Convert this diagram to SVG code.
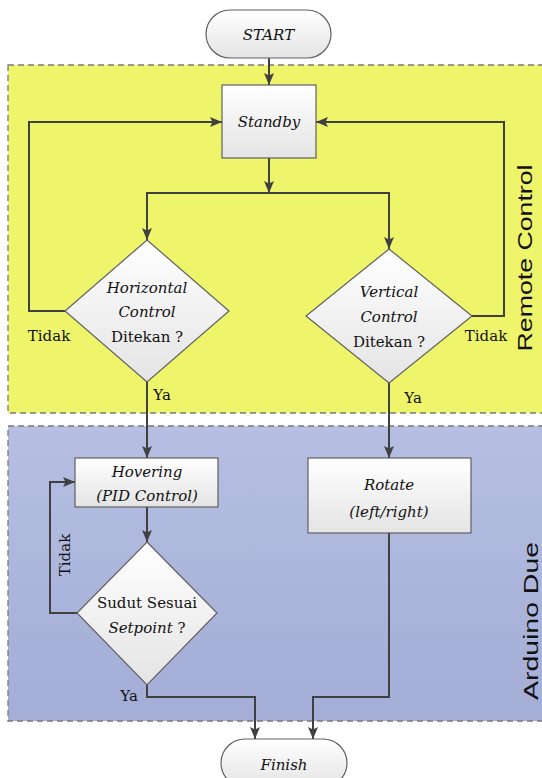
<svg xmlns="http://www.w3.org/2000/svg" width="542" height="778" viewBox="0 0 542 778">
<defs>
<linearGradient id="shade" x1="0" y1="0" x2="0" y2="1">
<stop offset="0" stop-color="#ffffff"/><stop offset="1" stop-color="#e4e4e4"/>
</linearGradient>
<linearGradient id="blue" x1="0" y1="0" x2="0" y2="1">
<stop offset="0" stop-color="#b6bfe2"/><stop offset="1" stop-color="#a3add6"/>
</linearGradient>
<marker id="arr" viewBox="0 0 12 10" refX="12" refY="5" markerWidth="12" markerHeight="10" markerUnits="userSpaceOnUse" orient="auto">
<path d="M0,0 L12,5 L0,10 L2.5,5 z" fill="#404040"/>
</marker>
</defs>
<style>
.reg{stroke:#7a7a7a;stroke-width:1.3;stroke-dasharray:6,4}
.shape{fill:url(#shade);stroke:#606060;stroke-width:1.2}
.t{font-family:'DejaVu Serif','Liberation Serif',serif;font-size:15px;fill:#111;text-anchor:middle}
.i{font-style:italic}
.side{font-family:'Liberation Sans',sans-serif;font-size:21px;fill:#111;text-anchor:middle}
.ca{fill:none;stroke:#404040;stroke-width:2;marker-end:url(#arr)}
</style>
<rect width="542" height="778" fill="#ffffff"/>
<g id="region-remote">
<rect x="8" y="65" width="540" height="348" fill="#eef56b" class="reg"/>
<text class="side" transform="translate(532,258) rotate(-90)" textLength="187" lengthAdjust="spacingAndGlyphs">Remote Control</text>
</g>
<g id="region-arduino">
<rect x="8" y="426" width="540" height="295" fill="url(#blue)" class="reg"/>
<text class="side" transform="translate(538,621) rotate(-90)" textLength="158" lengthAdjust="spacingAndGlyphs">Arduino Due</text>
</g>
<g id="connectors">
<path class="ca" d="M269,58 V85"/>
<path class="ca" d="M269,158 V193"/>
<path class="ca" d="M269,193 H147 V240"/>
<path class="ca" d="M269,193 H389 V249"/>
<path class="ca" d="M65,311 H29 V122 H222"/>
<path class="ca" d="M472,316 H504 V122 H316"/>
<path class="ca" d="M147,382 V458"/>
<path class="ca" d="M389,383 V458"/>
<path class="ca" d="M147,507 V542"/>
<path class="ca" d="M77,613 H50 V482 H75"/>
<path class="ca" d="M147,685 V697 H255 V739"/>
<path class="ca" d="M389,533 V697 H313 V739"/>
</g>
<g id="start">
<rect x="206" y="10" width="125" height="48" rx="24" class="shape"/>
<text class="t i" x="268.5" y="40">START</text>
</g>
<g id="standby">
<rect x="222" y="85" width="94" height="73" class="shape"/>
<text class="t i" x="269" y="127">Standby</text>
</g>
<g id="horizontal">
<polygon points="147,240 229,311 147,382 65,311" class="shape"/>
<text class="t i" x="147" y="293">Horizontal</text>
<text class="t i" x="147" y="317">Control</text>
<text class="t" x="147" y="342">Ditekan ?</text>
</g>
<g id="vertical">
<polygon points="389,249 472,316 389,383 306,316" class="shape"/>
<text class="t i" x="389" y="297">Vertical</text>
<text class="t i" x="389" y="322">Control</text>
<text class="t" x="389" y="347">Ditekan ?</text>
</g>
<g id="labels">
<text class="t" x="49" y="341">Tidak</text>
<text class="t" x="162" y="400">Ya</text>
<text class="t" x="486" y="341">Tidak</text>
<text class="t" x="413" y="403">Ya</text>
<text class="t" transform="translate(70,555) rotate(-90)">Tidak</text>
<text class="t" x="129" y="701">Ya</text>
</g>
<g id="hovering">
<rect x="75" y="458" width="143" height="49" class="shape"/>
<text class="t i" x="147" y="477">Hovering</text>
<text class="t i" x="147" y="501">(PID Control)</text>
</g>
<g id="rotate">
<rect x="308" y="458" width="163" height="75" class="shape"/>
<text class="t i" x="389" y="490">Rotate</text>
<text class="t i" x="389" y="517">(left/right)</text>
</g>
<g id="sudut">
<polygon points="147,542 217,613 147,685 77,613" class="shape"/>
<text class="t" x="147" y="608">Sudut Sesuai</text>
<text class="t" x="147" y="633"><tspan class="i">Setpoint</tspan> ?</text>
</g>
<g id="finish">
<rect x="221" y="739" width="126" height="48" rx="24" class="shape"/>
<text class="t i" x="284" y="770">Finish</text>
</g>
</svg>
